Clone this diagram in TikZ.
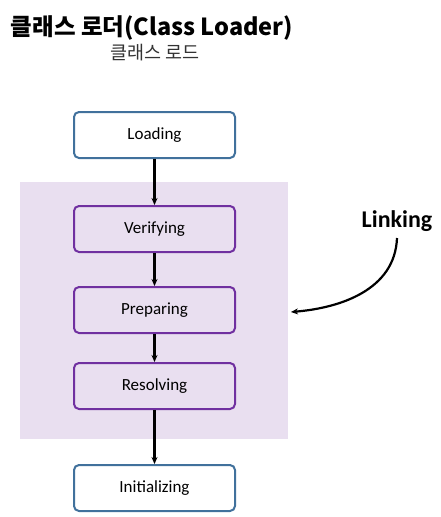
\documentclass[tikz,border=0pt]{standalone}
\usepackage{fontspec}
\setmainfont{Carlito}
\newfontfamily\krfont{Noto Sans CJK KR}
\usetikzlibrary{arrows.meta,positioning}
\definecolor{stageblue}{HTML}{41719C}
\definecolor{linkpurple}{HTML}{7030A0}
\definecolor{linkbg}{HTML}{E9DFF0}

\begin{document}
\begin{tikzpicture}[x=1pt,y=-1pt,
      stage/.style={
        rectangle,
        draw=stageblue, line width=2pt,
        fill=white,
        rounded corners=5pt,
        minimum width=161pt,
        minimum height=46pt,
        outer sep=1pt,
        font=\fontsize{17}{20}\selectfont,
        align=center
      },
      linkstage/.style={
        stage, draw=linkpurple, fill=none
      },
      arrow/.style={
        -{Stealth[length=7pt,width=6pt]},
        line width=2.2pt
      }
    ]
      \useasboundingbox (0,0) rectangle (440,517);
      \fill[linkbg] (20,182) rectangle (288,439);
      \node[font=\krfont\bfseries\fontsize{23.5}{26}\selectfont] (title) at (152,28) {클래스 로더(Class Loader)};
      \node[font=\krfont\fontsize{18.5}{20}\selectfont, text=black!80] (subtitle) at (155,53) {클래스 로드};
      \node[stage] (loading) at (154.5,135) {Loading};
      \node[linkstage, below=46pt of loading] (verifying) {Verifying};
      \node[linkstage, below=33pt of verifying] (preparing) {Preparing};
      \node[linkstage, below=28pt of preparing] (resolving) {Resolving};
      \node[stage, below=54pt of resolving] (initializing) {Initializing};
      \node[font=\bfseries\fontsize{24}{28}\selectfont] (linking) at (397,221) {Linking};
      \coordinate (linkend) at (291,312);
      \draw[arrow] (397,238) .. controls (395,290) and (340,308) .. (linkend);
      \draw[arrow] (loading) -- (verifying);
      \draw[arrow] (verifying) -- (preparing);
      \draw[arrow] (preparing) -- (resolving);
      \draw[arrow] (resolving) -- (initializing);
    \end{tikzpicture}
\end{document}
